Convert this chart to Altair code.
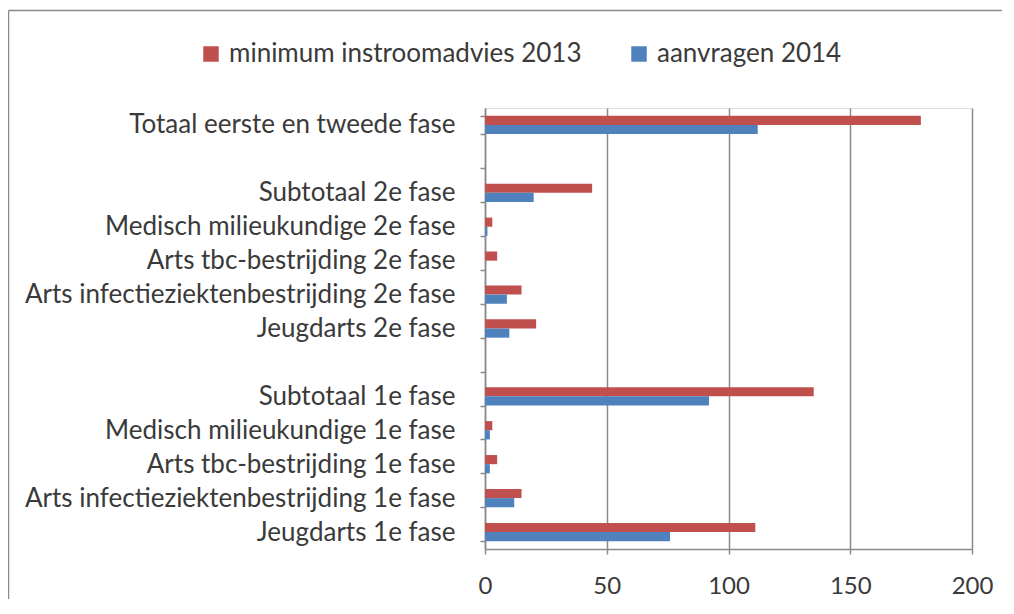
import altair as alt
import pandas as pd

categories = [
    "Totaal eerste en tweede fase", " ", "Subtotaal 2e fase",
    "Medisch milieukundige 2e fase", "Arts tbc-bestrijding 2e fase",
    "Arts infectieziektenbestrijding 2e fase", "Jeugdarts 2e fase", "  ",
    "Subtotaal 1e fase", "Medisch milieukundige 1e fase",
    "Arts tbc-bestrijding 1e fase", "Arts infectieziektenbestrijding 1e fase",
    "Jeugdarts 1e fase",
]
data_categories = [c for c in categories if c.strip()]
series = ["minimum instroomadvies 2013", "aanvragen 2014"]
minimum_2013 = [179, 44, 3, 5, 15, 21, 135, 3, 5, 15, 111]
aanvragen_2014 = [112, 20, 1, 0, 9, 10, 92, 2, 2, 12, 76]
x_ticks = [0, 50, 100, 150, 200]
colors = ["#C0504D", "#4F81BD"]

rows = []
for cat, a, b in zip(data_categories, minimum_2013, aanvragen_2014):
    rows.append({"categorie": cat, "reeks": series[0], "waarde": a})
    rows.append({"categorie": cat, "reeks": series[1], "waarde": b})
df = pd.DataFrame(rows)

FONT = "Lato"
TXT = "#3a3a3a"
GRID = "#8a8a8a"

bars = alt.Chart(df).mark_bar().encode(
    x=alt.X("waarde:Q",
            scale=alt.Scale(domain=[0, 200], nice=False),
            axis=alt.Axis(title=None, values=x_ticks, grid=True, gridColor=GRID,
                          gridWidth=1.5, domainColor=GRID, domainWidth=1.5,
                          tickColor=GRID, tickWidth=1.5, tickSize=5,
                          labelFontSize=24, labelPadding=20, labelColor=TXT,
                          labelFont=FONT, labelFlush=False)),
    y=alt.Y("categorie:N",
            scale=alt.Scale(domain=categories, paddingInner=0.46, paddingOuter=0.23),
            axis=alt.Axis(title=None, tickBand="extent", domainColor=GRID,
                          domainWidth=1.5, tickColor=GRID, tickWidth=1.5,
                          tickSize=5, labelFontSize=26, labelPadding=25,
                          labelColor=TXT, labelFont=FONT, grid=False,
                          labelLimit=600)),
    yOffset=alt.YOffset("reeks:N", scale=alt.Scale(domain=series)),
    color=alt.Color("reeks:N",
                    scale=alt.Scale(domain=series, range=colors),
                    legend=alt.Legend(title=None, orient="none", direction="horizontal",
                                      legendX=-287, legendY=-67,
                                      symbolType="square", symbolSize=240,
                                      symbolStrokeWidth=0, labelFontSize=26,
                                      labelFont=FONT, labelColor=TXT,
                                      labelOffset=5, columnPadding=44,
                                      padding=0, labelLimit=600)),
)

frame_df = pd.DataFrame({"k": [0]})
left_line = alt.Chart(frame_df).mark_rule(color="#8a8a8a", strokeWidth=1.5).encode(
    x=alt.value(-476.5), y=alt.value(-97.5), y2=alt.value(491),
)
top_line = alt.Chart(frame_df).mark_rule(color="#8a8a8a", strokeWidth=1.5).encode(
    x=alt.value(-476.5), x2=alt.value(517), y=alt.value(-97.5),
)

chart = alt.layer(left_line, top_line, bars).properties(
    width=487, height=441,
    autosize=alt.AutoSizeParams(type="none"),
    padding={"left": 477, "top": 100, "right": 30, "bottom": 50},
).configure_view(stroke=None).configure(background="white")

chart.save("out.html", embed_options={"renderer": "svg", "actions": False})
